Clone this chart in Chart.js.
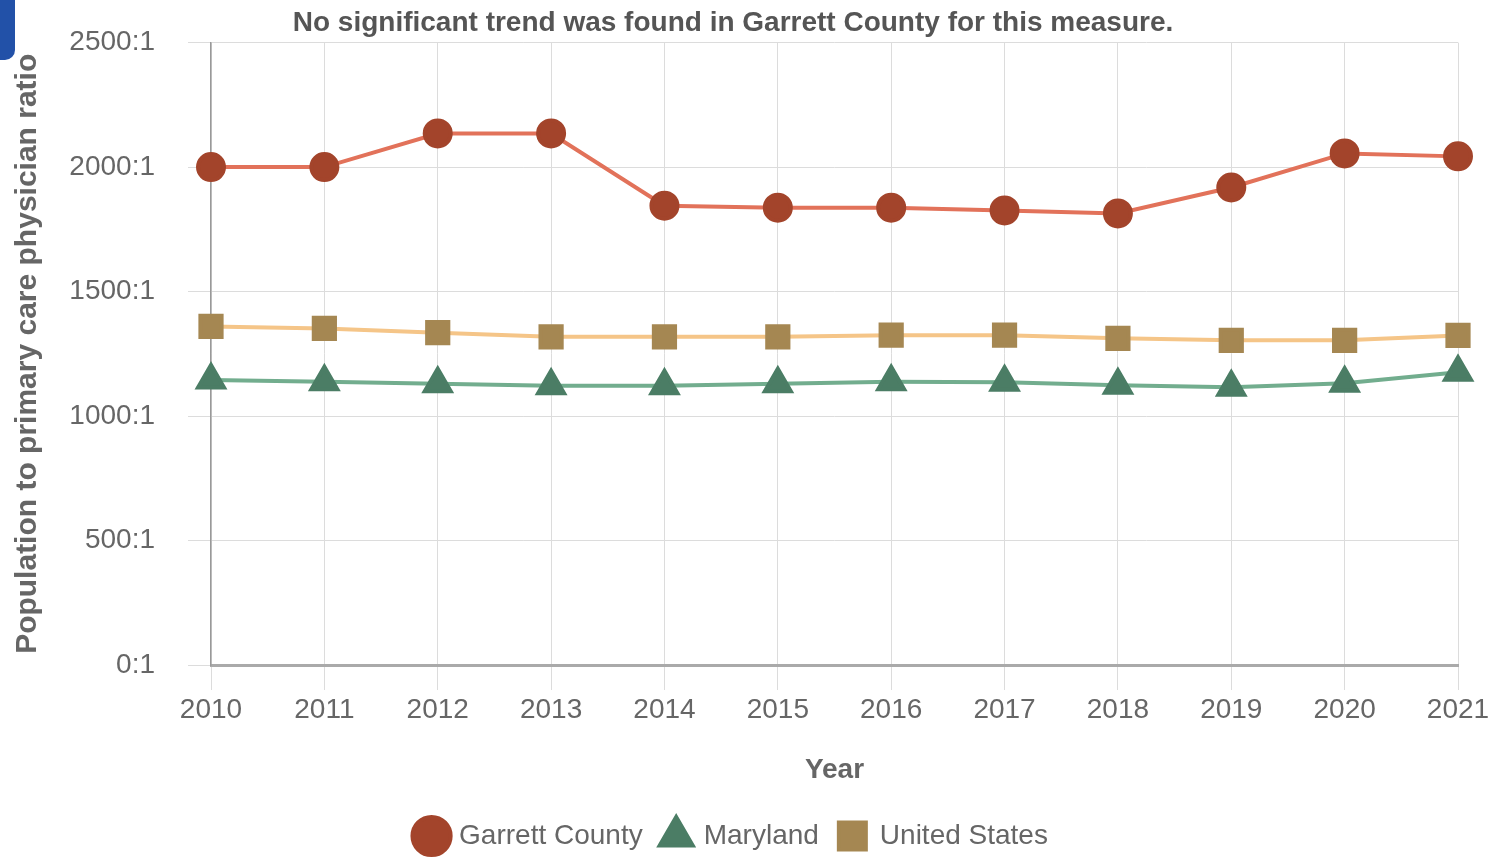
<!DOCTYPE html>
<html>
<head>
<meta charset="utf-8">
<script src="https://cdn.jsdelivr.net/npm/chart.js@4.4.0/dist/chart.umd.min.js"></script>
<style>
  html, body { margin: 0; padding: 0; background: #fff; }
  #wrap { position: relative; width: 1491px; height: 860px; }
  #corner { position: absolute; left: 0; top: 0; width: 15px; height: 60px; background: #2251a8; border-bottom-right-radius: 10px; }
</style>
</head>
<body>
<div id="wrap">
  <canvas id="ratioChart" width="1491" height="860"></canvas>
  <div id="corner"></div>
</div>
<script>
const years = ['2010', '2011', '2012', '2013', '2014', '2015', '2016', '2017', '2018', '2019', '2020', '2021'];
const garrettCounty = [2000, 2000, 2135, 2135, 1845, 1837, 1837, 1826, 1814, 1918, 2055, 2043];
const maryland = [1145, 1138, 1130, 1122, 1122, 1130, 1138, 1136, 1124, 1116, 1132, 1176];
const unitedStates = [1360, 1352, 1335, 1318, 1318, 1318, 1325, 1325, 1312, 1304, 1304, 1324];
const yTicks = [0, 500, 1000, 1500, 2000, 2500];

const fontFamily = '"Liberation Sans", Arial, sans-serif';
const textGray = '#666';

new Chart(document.getElementById('ratioChart'), {
    type: 'line',
    data: {
        labels: years,
        datasets: [{
            label: 'Garrett County',
            data: garrettCounty,
            borderColor: '#e2725a',
            backgroundColor: '#a3442b',
            pointBackgroundColor: '#a3442b',
            pointBorderColor: '#a3442b',
            pointStyle: 'circle',
            pointRadius: 13,
            borderWidth: 4
        }, {
            label: 'Maryland',
            data: maryland,
            borderColor: '#72ad8e',
            backgroundColor: '#4b7d65',
            pointBackgroundColor: '#4b7d65',
            pointBorderColor: '#4b7d65',
            pointStyle: 'triangle',
            pointRadius: 15,
            borderWidth: 4
        }, {
            label: 'United States',
            data: unitedStates,
            borderColor: '#f5c588',
            backgroundColor: '#a58752',
            pointBackgroundColor: '#a58752',
            pointBorderColor: '#a58752',
            pointStyle: 'rect',
            pointRadius: 15,
            borderWidth: 4
        }]
    },
    options: {
        responsive: false,
        animation: false,
        layout: { padding: { left: 8, right: 33, top: 0, bottom: 0 } },
        plugins: {
            tooltip: { enabled: false },
            title: {
                display: true,
                text: 'No significant trend was found in Garrett County for this measure.',
                color: '#555',
                font: { family: fontFamily, size: 28, weight: 'bold' },
                padding: { top: 6, bottom: 3 }
            },
            legend: {
                position: 'bottom',
                labels: {
                    usePointStyle: true,
                    boxWidth: 27,
                    boxHeight: 27,
                    padding: 20,
                    color: textGray,
                    font: { family: fontFamily, size: 28 }
                }
            }
        },
        scales: {
            x: {
                offset: false,
                grid: { color: '#dcdcdc', lineWidth: 1, tickLength: 25 },
                border: { color: '#aaa', width: 3 },
                ticks: { color: textGray, padding: 3, maxRotation: 0, font: { family: fontFamily, size: 28 } },
                title: {
                    display: true,
                    text: 'Year',
                    color: textGray,
                    font: { family: fontFamily, size: 28, weight: 'bold' },
                    padding: { top: 14, bottom: 15 }
                },
                afterFit: function (scale) {
                    scale.height = 137;
                    scale.paddingLeft = 0;
                    scale.paddingRight = 0;
                }
            },
            y: {
                min: 0,
                max: 2500,
                afterBuildTicks: function (scale) {
                    scale.ticks = yTicks.map(v => ({ value: v }));
                },
                grid: { color: '#dcdcdc', lineWidth: 1, tickLength: 23 },
                border: { color: '#999', width: 1.5 },
                ticks: {
                    color: textGray,
                    padding: 33,
                    font: { family: fontFamily, size: 28 },
                    callback: v => v + ':1'
                },
                title: {
                    display: true,
                    text: 'Population to primary care physician ratio',
                    color: textGray,
                    font: { family: fontFamily, size: 30, weight: 'bold' },
                    padding: { top: 2, bottom: 4 }
                },
                afterFit: function (scale) {
                    scale.width = 203;
                    scale.paddingTop = 0;
                    scale.paddingBottom = 0;
                }
            }
        }
    }
});
</script>
</body>
</html>
